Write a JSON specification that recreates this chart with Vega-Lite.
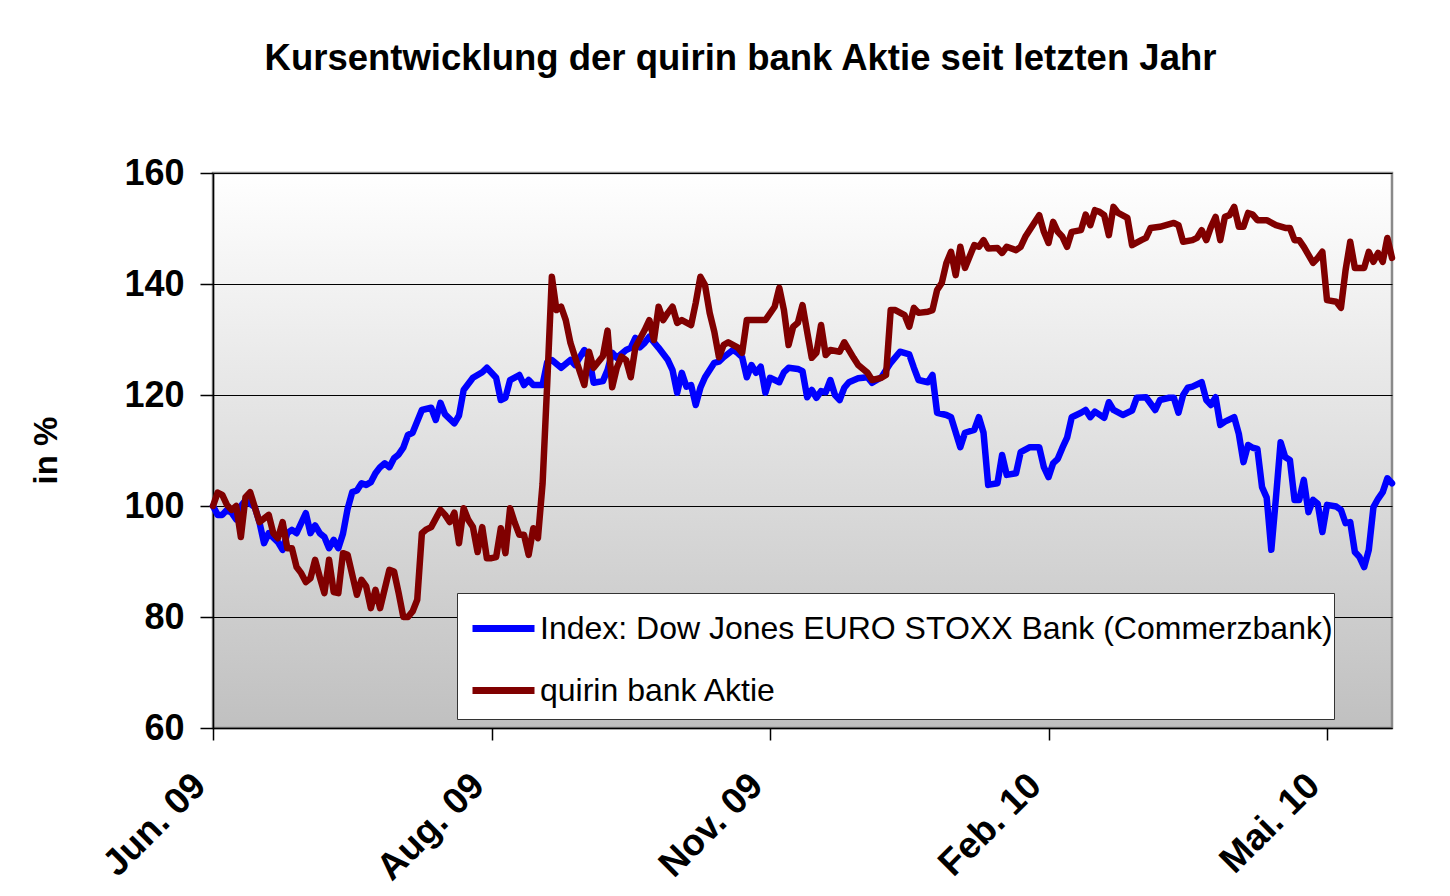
{
  "$schema": "https://vega.github.io/schema/vega-lite/v6.json",
  "width": 1179,
  "height": 555,
  "autosize": {"type": "none"},
  "padding": {"left": 213, "top": 173, "right": 58, "bottom": 168},
  "background": "#ffffff",
  "title": {
    "text": "Kursentwicklung der quirin bank Aktie seit letzten Jahr",
    "font": "Liberation Sans",
    "fontSize": 36.5,
    "fontWeight": "bold",
    "color": "#000000",
    "anchor": "middle",
    "dx": -62,
    "offset": 78
  },
  "config": {
    "view": {
      "stroke": "#8a8a8a",
      "strokeWidth": 2.5,
      "fill": {
        "gradient": "linear",
        "x1": 0, "y1": 0, "x2": 0, "y2": 1,
        "stops": [
          {"offset": 0, "color": "#ffffff"},
          {"offset": 1, "color": "#c0c0c0"}
        ]
      }
    },
    "axis": {
      "labelFont": "Liberation Sans",
      "titleFont": "Liberation Sans",
      "labelColor": "#000000",
      "titleColor": "#000000",
      "domainColor": "#000000",
      "tickColor": "#000000"
    }
  },
  "datasets": {
    "series": [
      {"t": 0, "v": 100.0, "s": "Index: Dow Jones EURO STOXX Bank (Commerzbank)"},
      {"t": 1, "v": 98.4, "s": "Index: Dow Jones EURO STOXX Bank (Commerzbank)"},
      {"t": 2, "v": 98.4, "s": "Index: Dow Jones EURO STOXX Bank (Commerzbank)"},
      {"t": 3, "v": 99.3, "s": "Index: Dow Jones EURO STOXX Bank (Commerzbank)"},
      {"t": 4, "v": 98.8, "s": "Index: Dow Jones EURO STOXX Bank (Commerzbank)"},
      {"t": 5, "v": 97.6, "s": "Index: Dow Jones EURO STOXX Bank (Commerzbank)"},
      {"t": 6, "v": 100.0, "s": "Index: Dow Jones EURO STOXX Bank (Commerzbank)"},
      {"t": 7, "v": 101.0, "s": "Index: Dow Jones EURO STOXX Bank (Commerzbank)"},
      {"t": 9, "v": 99.8, "s": "Index: Dow Jones EURO STOXX Bank (Commerzbank)"},
      {"t": 10, "v": 97.1, "s": "Index: Dow Jones EURO STOXX Bank (Commerzbank)"},
      {"t": 11, "v": 93.3, "s": "Index: Dow Jones EURO STOXX Bank (Commerzbank)"},
      {"t": 12, "v": 95.1, "s": "Index: Dow Jones EURO STOXX Bank (Commerzbank)"},
      {"t": 14, "v": 93.5, "s": "Index: Dow Jones EURO STOXX Bank (Commerzbank)"},
      {"t": 15, "v": 92.1, "s": "Index: Dow Jones EURO STOXX Bank (Commerzbank)"},
      {"t": 16, "v": 95.1, "s": "Index: Dow Jones EURO STOXX Bank (Commerzbank)"},
      {"t": 17, "v": 95.7, "s": "Index: Dow Jones EURO STOXX Bank (Commerzbank)"},
      {"t": 18, "v": 95.1, "s": "Index: Dow Jones EURO STOXX Bank (Commerzbank)"},
      {"t": 19, "v": 96.9, "s": "Index: Dow Jones EURO STOXX Bank (Commerzbank)"},
      {"t": 20, "v": 98.7, "s": "Index: Dow Jones EURO STOXX Bank (Commerzbank)"},
      {"t": 21, "v": 95.1, "s": "Index: Dow Jones EURO STOXX Bank (Commerzbank)"},
      {"t": 22, "v": 96.5, "s": "Index: Dow Jones EURO STOXX Bank (Commerzbank)"},
      {"t": 23, "v": 95.1, "s": "Index: Dow Jones EURO STOXX Bank (Commerzbank)"},
      {"t": 24, "v": 94.4, "s": "Index: Dow Jones EURO STOXX Bank (Commerzbank)"},
      {"t": 25, "v": 92.4, "s": "Index: Dow Jones EURO STOXX Bank (Commerzbank)"},
      {"t": 26, "v": 93.9, "s": "Index: Dow Jones EURO STOXX Bank (Commerzbank)"},
      {"t": 27, "v": 92.4, "s": "Index: Dow Jones EURO STOXX Bank (Commerzbank)"},
      {"t": 28, "v": 95.0, "s": "Index: Dow Jones EURO STOXX Bank (Commerzbank)"},
      {"t": 29, "v": 99.5, "s": "Index: Dow Jones EURO STOXX Bank (Commerzbank)"},
      {"t": 30, "v": 102.5, "s": "Index: Dow Jones EURO STOXX Bank (Commerzbank)"},
      {"t": 31, "v": 102.8, "s": "Index: Dow Jones EURO STOXX Bank (Commerzbank)"},
      {"t": 32, "v": 104.1, "s": "Index: Dow Jones EURO STOXX Bank (Commerzbank)"},
      {"t": 33, "v": 103.8, "s": "Index: Dow Jones EURO STOXX Bank (Commerzbank)"},
      {"t": 34, "v": 104.3, "s": "Index: Dow Jones EURO STOXX Bank (Commerzbank)"},
      {"t": 35, "v": 105.9, "s": "Index: Dow Jones EURO STOXX Bank (Commerzbank)"},
      {"t": 36, "v": 107.0, "s": "Index: Dow Jones EURO STOXX Bank (Commerzbank)"},
      {"t": 37, "v": 107.7, "s": "Index: Dow Jones EURO STOXX Bank (Commerzbank)"},
      {"t": 38, "v": 107.0, "s": "Index: Dow Jones EURO STOXX Bank (Commerzbank)"},
      {"t": 39, "v": 108.6, "s": "Index: Dow Jones EURO STOXX Bank (Commerzbank)"},
      {"t": 40, "v": 109.3, "s": "Index: Dow Jones EURO STOXX Bank (Commerzbank)"},
      {"t": 41, "v": 110.5, "s": "Index: Dow Jones EURO STOXX Bank (Commerzbank)"},
      {"t": 42, "v": 112.8, "s": "Index: Dow Jones EURO STOXX Bank (Commerzbank)"},
      {"t": 43, "v": 113.2, "s": "Index: Dow Jones EURO STOXX Bank (Commerzbank)"},
      {"t": 45, "v": 117.3, "s": "Index: Dow Jones EURO STOXX Bank (Commerzbank)"},
      {"t": 47, "v": 117.7, "s": "Index: Dow Jones EURO STOXX Bank (Commerzbank)"},
      {"t": 48, "v": 115.5, "s": "Index: Dow Jones EURO STOXX Bank (Commerzbank)"},
      {"t": 49, "v": 118.6, "s": "Index: Dow Jones EURO STOXX Bank (Commerzbank)"},
      {"t": 50, "v": 116.5, "s": "Index: Dow Jones EURO STOXX Bank (Commerzbank)"},
      {"t": 52, "v": 114.9, "s": "Index: Dow Jones EURO STOXX Bank (Commerzbank)"},
      {"t": 53, "v": 116.3, "s": "Index: Dow Jones EURO STOXX Bank (Commerzbank)"},
      {"t": 54, "v": 120.9, "s": "Index: Dow Jones EURO STOXX Bank (Commerzbank)"},
      {"t": 56, "v": 123.1, "s": "Index: Dow Jones EURO STOXX Bank (Commerzbank)"},
      {"t": 58, "v": 124.1, "s": "Index: Dow Jones EURO STOXX Bank (Commerzbank)"},
      {"t": 59, "v": 124.9, "s": "Index: Dow Jones EURO STOXX Bank (Commerzbank)"},
      {"t": 61, "v": 123.1, "s": "Index: Dow Jones EURO STOXX Bank (Commerzbank)"},
      {"t": 62, "v": 119.1, "s": "Index: Dow Jones EURO STOXX Bank (Commerzbank)"},
      {"t": 63, "v": 119.5, "s": "Index: Dow Jones EURO STOXX Bank (Commerzbank)"},
      {"t": 64, "v": 122.7, "s": "Index: Dow Jones EURO STOXX Bank (Commerzbank)"},
      {"t": 66, "v": 123.6, "s": "Index: Dow Jones EURO STOXX Bank (Commerzbank)"},
      {"t": 67, "v": 121.8, "s": "Index: Dow Jones EURO STOXX Bank (Commerzbank)"},
      {"t": 68, "v": 122.7, "s": "Index: Dow Jones EURO STOXX Bank (Commerzbank)"},
      {"t": 69, "v": 121.8, "s": "Index: Dow Jones EURO STOXX Bank (Commerzbank)"},
      {"t": 71, "v": 121.8, "s": "Index: Dow Jones EURO STOXX Bank (Commerzbank)"},
      {"t": 72, "v": 125.9, "s": "Index: Dow Jones EURO STOXX Bank (Commerzbank)"},
      {"t": 73, "v": 126.3, "s": "Index: Dow Jones EURO STOXX Bank (Commerzbank)"},
      {"t": 75, "v": 124.9, "s": "Index: Dow Jones EURO STOXX Bank (Commerzbank)"},
      {"t": 77, "v": 126.3, "s": "Index: Dow Jones EURO STOXX Bank (Commerzbank)"},
      {"t": 78, "v": 125.4, "s": "Index: Dow Jones EURO STOXX Bank (Commerzbank)"},
      {"t": 80, "v": 128.1, "s": "Index: Dow Jones EURO STOXX Bank (Commerzbank)"},
      {"t": 81, "v": 126.8, "s": "Index: Dow Jones EURO STOXX Bank (Commerzbank)"},
      {"t": 82, "v": 122.2, "s": "Index: Dow Jones EURO STOXX Bank (Commerzbank)"},
      {"t": 84, "v": 122.5, "s": "Index: Dow Jones EURO STOXX Bank (Commerzbank)"},
      {"t": 85, "v": 124.5, "s": "Index: Dow Jones EURO STOXX Bank (Commerzbank)"},
      {"t": 86, "v": 127.6, "s": "Index: Dow Jones EURO STOXX Bank (Commerzbank)"},
      {"t": 87, "v": 126.7, "s": "Index: Dow Jones EURO STOXX Bank (Commerzbank)"},
      {"t": 89, "v": 128.1, "s": "Index: Dow Jones EURO STOXX Bank (Commerzbank)"},
      {"t": 90, "v": 128.5, "s": "Index: Dow Jones EURO STOXX Bank (Commerzbank)"},
      {"t": 91, "v": 130.3, "s": "Index: Dow Jones EURO STOXX Bank (Commerzbank)"},
      {"t": 92, "v": 128.6, "s": "Index: Dow Jones EURO STOXX Bank (Commerzbank)"},
      {"t": 93, "v": 129.4, "s": "Index: Dow Jones EURO STOXX Bank (Commerzbank)"},
      {"t": 94, "v": 130.5, "s": "Index: Dow Jones EURO STOXX Bank (Commerzbank)"},
      {"t": 96, "v": 128.5, "s": "Index: Dow Jones EURO STOXX Bank (Commerzbank)"},
      {"t": 98, "v": 126.3, "s": "Index: Dow Jones EURO STOXX Bank (Commerzbank)"},
      {"t": 99, "v": 124.5, "s": "Index: Dow Jones EURO STOXX Bank (Commerzbank)"},
      {"t": 100, "v": 120.4, "s": "Index: Dow Jones EURO STOXX Bank (Commerzbank)"},
      {"t": 101, "v": 124.0, "s": "Index: Dow Jones EURO STOXX Bank (Commerzbank)"},
      {"t": 102, "v": 121.5, "s": "Index: Dow Jones EURO STOXX Bank (Commerzbank)"},
      {"t": 103, "v": 121.8, "s": "Index: Dow Jones EURO STOXX Bank (Commerzbank)"},
      {"t": 104, "v": 118.2, "s": "Index: Dow Jones EURO STOXX Bank (Commerzbank)"},
      {"t": 105, "v": 121.3, "s": "Index: Dow Jones EURO STOXX Bank (Commerzbank)"},
      {"t": 106, "v": 123.2, "s": "Index: Dow Jones EURO STOXX Bank (Commerzbank)"},
      {"t": 108, "v": 125.8, "s": "Index: Dow Jones EURO STOXX Bank (Commerzbank)"},
      {"t": 109, "v": 126.0, "s": "Index: Dow Jones EURO STOXX Bank (Commerzbank)"},
      {"t": 110, "v": 126.8, "s": "Index: Dow Jones EURO STOXX Bank (Commerzbank)"},
      {"t": 112, "v": 128.1, "s": "Index: Dow Jones EURO STOXX Bank (Commerzbank)"},
      {"t": 113, "v": 127.6, "s": "Index: Dow Jones EURO STOXX Bank (Commerzbank)"},
      {"t": 114, "v": 126.8, "s": "Index: Dow Jones EURO STOXX Bank (Commerzbank)"},
      {"t": 115, "v": 123.2, "s": "Index: Dow Jones EURO STOXX Bank (Commerzbank)"},
      {"t": 116, "v": 125.4, "s": "Index: Dow Jones EURO STOXX Bank (Commerzbank)"},
      {"t": 117, "v": 124.0, "s": "Index: Dow Jones EURO STOXX Bank (Commerzbank)"},
      {"t": 118, "v": 125.1, "s": "Index: Dow Jones EURO STOXX Bank (Commerzbank)"},
      {"t": 119, "v": 120.4, "s": "Index: Dow Jones EURO STOXX Bank (Commerzbank)"},
      {"t": 120, "v": 123.1, "s": "Index: Dow Jones EURO STOXX Bank (Commerzbank)"},
      {"t": 122, "v": 122.3, "s": "Index: Dow Jones EURO STOXX Bank (Commerzbank)"},
      {"t": 123, "v": 124.1, "s": "Index: Dow Jones EURO STOXX Bank (Commerzbank)"},
      {"t": 124, "v": 124.9, "s": "Index: Dow Jones EURO STOXX Bank (Commerzbank)"},
      {"t": 126, "v": 124.7, "s": "Index: Dow Jones EURO STOXX Bank (Commerzbank)"},
      {"t": 127, "v": 124.3, "s": "Index: Dow Jones EURO STOXX Bank (Commerzbank)"},
      {"t": 128, "v": 119.6, "s": "Index: Dow Jones EURO STOXX Bank (Commerzbank)"},
      {"t": 129, "v": 120.9, "s": "Index: Dow Jones EURO STOXX Bank (Commerzbank)"},
      {"t": 130, "v": 119.5, "s": "Index: Dow Jones EURO STOXX Bank (Commerzbank)"},
      {"t": 131, "v": 120.7, "s": "Index: Dow Jones EURO STOXX Bank (Commerzbank)"},
      {"t": 132, "v": 120.5, "s": "Index: Dow Jones EURO STOXX Bank (Commerzbank)"},
      {"t": 133, "v": 122.7, "s": "Index: Dow Jones EURO STOXX Bank (Commerzbank)"},
      {"t": 134, "v": 120.0, "s": "Index: Dow Jones EURO STOXX Bank (Commerzbank)"},
      {"t": 135, "v": 119.1, "s": "Index: Dow Jones EURO STOXX Bank (Commerzbank)"},
      {"t": 136, "v": 121.3, "s": "Index: Dow Jones EURO STOXX Bank (Commerzbank)"},
      {"t": 137, "v": 122.3, "s": "Index: Dow Jones EURO STOXX Bank (Commerzbank)"},
      {"t": 139, "v": 123.0, "s": "Index: Dow Jones EURO STOXX Bank (Commerzbank)"},
      {"t": 141, "v": 123.2, "s": "Index: Dow Jones EURO STOXX Bank (Commerzbank)"},
      {"t": 142, "v": 122.2, "s": "Index: Dow Jones EURO STOXX Bank (Commerzbank)"},
      {"t": 144, "v": 123.2, "s": "Index: Dow Jones EURO STOXX Bank (Commerzbank)"},
      {"t": 146, "v": 125.8, "s": "Index: Dow Jones EURO STOXX Bank (Commerzbank)"},
      {"t": 148, "v": 127.8, "s": "Index: Dow Jones EURO STOXX Bank (Commerzbank)"},
      {"t": 150, "v": 127.3, "s": "Index: Dow Jones EURO STOXX Bank (Commerzbank)"},
      {"t": 151, "v": 124.9, "s": "Index: Dow Jones EURO STOXX Bank (Commerzbank)"},
      {"t": 152, "v": 122.7, "s": "Index: Dow Jones EURO STOXX Bank (Commerzbank)"},
      {"t": 154, "v": 122.3, "s": "Index: Dow Jones EURO STOXX Bank (Commerzbank)"},
      {"t": 155, "v": 123.6, "s": "Index: Dow Jones EURO STOXX Bank (Commerzbank)"},
      {"t": 156, "v": 116.8, "s": "Index: Dow Jones EURO STOXX Bank (Commerzbank)"},
      {"t": 158, "v": 116.4, "s": "Index: Dow Jones EURO STOXX Bank (Commerzbank)"},
      {"t": 159, "v": 116.0, "s": "Index: Dow Jones EURO STOXX Bank (Commerzbank)"},
      {"t": 161, "v": 110.6, "s": "Index: Dow Jones EURO STOXX Bank (Commerzbank)"},
      {"t": 162, "v": 113.2, "s": "Index: Dow Jones EURO STOXX Bank (Commerzbank)"},
      {"t": 164, "v": 113.7, "s": "Index: Dow Jones EURO STOXX Bank (Commerzbank)"},
      {"t": 165, "v": 116.0, "s": "Index: Dow Jones EURO STOXX Bank (Commerzbank)"},
      {"t": 166, "v": 113.2, "s": "Index: Dow Jones EURO STOXX Bank (Commerzbank)"},
      {"t": 167, "v": 103.8, "s": "Index: Dow Jones EURO STOXX Bank (Commerzbank)"},
      {"t": 169, "v": 104.1, "s": "Index: Dow Jones EURO STOXX Bank (Commerzbank)"},
      {"t": 170, "v": 109.2, "s": "Index: Dow Jones EURO STOXX Bank (Commerzbank)"},
      {"t": 171, "v": 105.6, "s": "Index: Dow Jones EURO STOXX Bank (Commerzbank)"},
      {"t": 173, "v": 105.9, "s": "Index: Dow Jones EURO STOXX Bank (Commerzbank)"},
      {"t": 174, "v": 109.7, "s": "Index: Dow Jones EURO STOXX Bank (Commerzbank)"},
      {"t": 176, "v": 110.6, "s": "Index: Dow Jones EURO STOXX Bank (Commerzbank)"},
      {"t": 178, "v": 110.6, "s": "Index: Dow Jones EURO STOXX Bank (Commerzbank)"},
      {"t": 179, "v": 107.0, "s": "Index: Dow Jones EURO STOXX Bank (Commerzbank)"},
      {"t": 180, "v": 105.2, "s": "Index: Dow Jones EURO STOXX Bank (Commerzbank)"},
      {"t": 181, "v": 107.7, "s": "Index: Dow Jones EURO STOXX Bank (Commerzbank)"},
      {"t": 182, "v": 108.5, "s": "Index: Dow Jones EURO STOXX Bank (Commerzbank)"},
      {"t": 183, "v": 110.5, "s": "Index: Dow Jones EURO STOXX Bank (Commerzbank)"},
      {"t": 184, "v": 112.3, "s": "Index: Dow Jones EURO STOXX Bank (Commerzbank)"},
      {"t": 185, "v": 116.0, "s": "Index: Dow Jones EURO STOXX Bank (Commerzbank)"},
      {"t": 187, "v": 116.8, "s": "Index: Dow Jones EURO STOXX Bank (Commerzbank)"},
      {"t": 188, "v": 117.3, "s": "Index: Dow Jones EURO STOXX Bank (Commerzbank)"},
      {"t": 189, "v": 116.0, "s": "Index: Dow Jones EURO STOXX Bank (Commerzbank)"},
      {"t": 190, "v": 117.0, "s": "Index: Dow Jones EURO STOXX Bank (Commerzbank)"},
      {"t": 192, "v": 115.9, "s": "Index: Dow Jones EURO STOXX Bank (Commerzbank)"},
      {"t": 193, "v": 118.7, "s": "Index: Dow Jones EURO STOXX Bank (Commerzbank)"},
      {"t": 194, "v": 117.3, "s": "Index: Dow Jones EURO STOXX Bank (Commerzbank)"},
      {"t": 196, "v": 116.4, "s": "Index: Dow Jones EURO STOXX Bank (Commerzbank)"},
      {"t": 198, "v": 117.2, "s": "Index: Dow Jones EURO STOXX Bank (Commerzbank)"},
      {"t": 199, "v": 119.5, "s": "Index: Dow Jones EURO STOXX Bank (Commerzbank)"},
      {"t": 201, "v": 119.6, "s": "Index: Dow Jones EURO STOXX Bank (Commerzbank)"},
      {"t": 203, "v": 117.3, "s": "Index: Dow Jones EURO STOXX Bank (Commerzbank)"},
      {"t": 204, "v": 119.1, "s": "Index: Dow Jones EURO STOXX Bank (Commerzbank)"},
      {"t": 206, "v": 119.5, "s": "Index: Dow Jones EURO STOXX Bank (Commerzbank)"},
      {"t": 207, "v": 119.5, "s": "Index: Dow Jones EURO STOXX Bank (Commerzbank)"},
      {"t": 208, "v": 116.8, "s": "Index: Dow Jones EURO STOXX Bank (Commerzbank)"},
      {"t": 209, "v": 120.0, "s": "Index: Dow Jones EURO STOXX Bank (Commerzbank)"},
      {"t": 210, "v": 121.3, "s": "Index: Dow Jones EURO STOXX Bank (Commerzbank)"},
      {"t": 211, "v": 121.5, "s": "Index: Dow Jones EURO STOXX Bank (Commerzbank)"},
      {"t": 213, "v": 122.3, "s": "Index: Dow Jones EURO STOXX Bank (Commerzbank)"},
      {"t": 214, "v": 119.1, "s": "Index: Dow Jones EURO STOXX Bank (Commerzbank)"},
      {"t": 215, "v": 118.2, "s": "Index: Dow Jones EURO STOXX Bank (Commerzbank)"},
      {"t": 216, "v": 119.6, "s": "Index: Dow Jones EURO STOXX Bank (Commerzbank)"},
      {"t": 217, "v": 114.6, "s": "Index: Dow Jones EURO STOXX Bank (Commerzbank)"},
      {"t": 218, "v": 115.2, "s": "Index: Dow Jones EURO STOXX Bank (Commerzbank)"},
      {"t": 220, "v": 116.0, "s": "Index: Dow Jones EURO STOXX Bank (Commerzbank)"},
      {"t": 221, "v": 113.0, "s": "Index: Dow Jones EURO STOXX Bank (Commerzbank)"},
      {"t": 222, "v": 107.9, "s": "Index: Dow Jones EURO STOXX Bank (Commerzbank)"},
      {"t": 223, "v": 111.0, "s": "Index: Dow Jones EURO STOXX Bank (Commerzbank)"},
      {"t": 224, "v": 110.5, "s": "Index: Dow Jones EURO STOXX Bank (Commerzbank)"},
      {"t": 225, "v": 110.3, "s": "Index: Dow Jones EURO STOXX Bank (Commerzbank)"},
      {"t": 226, "v": 103.4, "s": "Index: Dow Jones EURO STOXX Bank (Commerzbank)"},
      {"t": 227, "v": 101.5, "s": "Index: Dow Jones EURO STOXX Bank (Commerzbank)"},
      {"t": 228, "v": 92.1, "s": "Index: Dow Jones EURO STOXX Bank (Commerzbank)"},
      {"t": 229, "v": 101.5, "s": "Index: Dow Jones EURO STOXX Bank (Commerzbank)"},
      {"t": 230, "v": 111.5, "s": "Index: Dow Jones EURO STOXX Bank (Commerzbank)"},
      {"t": 231, "v": 108.8, "s": "Index: Dow Jones EURO STOXX Bank (Commerzbank)"},
      {"t": 232, "v": 108.3, "s": "Index: Dow Jones EURO STOXX Bank (Commerzbank)"},
      {"t": 233, "v": 101.1, "s": "Index: Dow Jones EURO STOXX Bank (Commerzbank)"},
      {"t": 234, "v": 101.1, "s": "Index: Dow Jones EURO STOXX Bank (Commerzbank)"},
      {"t": 235, "v": 104.7, "s": "Index: Dow Jones EURO STOXX Bank (Commerzbank)"},
      {"t": 236, "v": 98.9, "s": "Index: Dow Jones EURO STOXX Bank (Commerzbank)"},
      {"t": 237, "v": 101.1, "s": "Index: Dow Jones EURO STOXX Bank (Commerzbank)"},
      {"t": 238, "v": 100.4, "s": "Index: Dow Jones EURO STOXX Bank (Commerzbank)"},
      {"t": 239, "v": 95.3, "s": "Index: Dow Jones EURO STOXX Bank (Commerzbank)"},
      {"t": 240, "v": 100.2, "s": "Index: Dow Jones EURO STOXX Bank (Commerzbank)"},
      {"t": 242, "v": 99.9, "s": "Index: Dow Jones EURO STOXX Bank (Commerzbank)"},
      {"t": 243, "v": 99.3, "s": "Index: Dow Jones EURO STOXX Bank (Commerzbank)"},
      {"t": 244, "v": 96.9, "s": "Index: Dow Jones EURO STOXX Bank (Commerzbank)"},
      {"t": 245, "v": 97.1, "s": "Index: Dow Jones EURO STOXX Bank (Commerzbank)"},
      {"t": 246, "v": 91.7, "s": "Index: Dow Jones EURO STOXX Bank (Commerzbank)"},
      {"t": 247, "v": 90.8, "s": "Index: Dow Jones EURO STOXX Bank (Commerzbank)"},
      {"t": 248, "v": 89.0, "s": "Index: Dow Jones EURO STOXX Bank (Commerzbank)"},
      {"t": 249, "v": 92.1, "s": "Index: Dow Jones EURO STOXX Bank (Commerzbank)"},
      {"t": 250, "v": 99.8, "s": "Index: Dow Jones EURO STOXX Bank (Commerzbank)"},
      {"t": 251, "v": 101.3, "s": "Index: Dow Jones EURO STOXX Bank (Commerzbank)"},
      {"t": 252, "v": 102.5, "s": "Index: Dow Jones EURO STOXX Bank (Commerzbank)"},
      {"t": 253, "v": 105.0, "s": "Index: Dow Jones EURO STOXX Bank (Commerzbank)"},
      {"t": 254, "v": 104.1, "s": "Index: Dow Jones EURO STOXX Bank (Commerzbank)"},
      {"t": 0, "v": 100.0, "s": "quirin bank Aktie"},
      {"t": 1, "v": 102.4, "s": "quirin bank Aktie"},
      {"t": 2, "v": 102.0, "s": "quirin bank Aktie"},
      {"t": 3, "v": 100.2, "s": "quirin bank Aktie"},
      {"t": 4, "v": 99.3, "s": "quirin bank Aktie"},
      {"t": 5, "v": 100.0, "s": "quirin bank Aktie"},
      {"t": 6, "v": 94.4, "s": "quirin bank Aktie"},
      {"t": 7, "v": 101.6, "s": "quirin bank Aktie"},
      {"t": 8, "v": 102.5, "s": "quirin bank Aktie"},
      {"t": 9, "v": 99.8, "s": "quirin bank Aktie"},
      {"t": 10, "v": 97.1, "s": "quirin bank Aktie"},
      {"t": 12, "v": 98.4, "s": "quirin bank Aktie"},
      {"t": 13, "v": 95.1, "s": "quirin bank Aktie"},
      {"t": 14, "v": 94.2, "s": "quirin bank Aktie"},
      {"t": 15, "v": 97.1, "s": "quirin bank Aktie"},
      {"t": 16, "v": 92.4, "s": "quirin bank Aktie"},
      {"t": 17, "v": 92.4, "s": "quirin bank Aktie"},
      {"t": 18, "v": 89.0, "s": "quirin bank Aktie"},
      {"t": 19, "v": 87.9, "s": "quirin bank Aktie"},
      {"t": 20, "v": 86.3, "s": "quirin bank Aktie"},
      {"t": 21, "v": 87.0, "s": "quirin bank Aktie"},
      {"t": 22, "v": 90.3, "s": "quirin bank Aktie"},
      {"t": 23, "v": 87.2, "s": "quirin bank Aktie"},
      {"t": 24, "v": 84.3, "s": "quirin bank Aktie"},
      {"t": 25, "v": 90.3, "s": "quirin bank Aktie"},
      {"t": 26, "v": 84.5, "s": "quirin bank Aktie"},
      {"t": 27, "v": 84.3, "s": "quirin bank Aktie"},
      {"t": 28, "v": 91.5, "s": "quirin bank Aktie"},
      {"t": 29, "v": 91.2, "s": "quirin bank Aktie"},
      {"t": 31, "v": 84.0, "s": "quirin bank Aktie"},
      {"t": 32, "v": 86.7, "s": "quirin bank Aktie"},
      {"t": 33, "v": 85.5, "s": "quirin bank Aktie"},
      {"t": 34, "v": 81.6, "s": "quirin bank Aktie"},
      {"t": 35, "v": 84.9, "s": "quirin bank Aktie"},
      {"t": 36, "v": 81.6, "s": "quirin bank Aktie"},
      {"t": 38, "v": 88.5, "s": "quirin bank Aktie"},
      {"t": 39, "v": 88.2, "s": "quirin bank Aktie"},
      {"t": 40, "v": 84.3, "s": "quirin bank Aktie"},
      {"t": 41, "v": 80.0, "s": "quirin bank Aktie"},
      {"t": 42, "v": 80.0, "s": "quirin bank Aktie"},
      {"t": 43, "v": 81.0, "s": "quirin bank Aktie"},
      {"t": 44, "v": 83.1, "s": "quirin bank Aktie"},
      {"t": 45, "v": 95.1, "s": "quirin bank Aktie"},
      {"t": 46, "v": 95.8, "s": "quirin bank Aktie"},
      {"t": 47, "v": 96.2, "s": "quirin bank Aktie"},
      {"t": 49, "v": 99.3, "s": "quirin bank Aktie"},
      {"t": 50, "v": 98.4, "s": "quirin bank Aktie"},
      {"t": 51, "v": 97.1, "s": "quirin bank Aktie"},
      {"t": 52, "v": 98.8, "s": "quirin bank Aktie"},
      {"t": 53, "v": 93.3, "s": "quirin bank Aktie"},
      {"t": 54, "v": 99.6, "s": "quirin bank Aktie"},
      {"t": 55, "v": 97.5, "s": "quirin bank Aktie"},
      {"t": 56, "v": 96.2, "s": "quirin bank Aktie"},
      {"t": 57, "v": 91.7, "s": "quirin bank Aktie"},
      {"t": 58, "v": 96.2, "s": "quirin bank Aktie"},
      {"t": 59, "v": 90.6, "s": "quirin bank Aktie"},
      {"t": 60, "v": 90.6, "s": "quirin bank Aktie"},
      {"t": 61, "v": 90.8, "s": "quirin bank Aktie"},
      {"t": 62, "v": 96.0, "s": "quirin bank Aktie"},
      {"t": 63, "v": 91.5, "s": "quirin bank Aktie"},
      {"t": 64, "v": 99.6, "s": "quirin bank Aktie"},
      {"t": 65, "v": 97.0, "s": "quirin bank Aktie"},
      {"t": 66, "v": 94.8, "s": "quirin bank Aktie"},
      {"t": 67, "v": 94.8, "s": "quirin bank Aktie"},
      {"t": 68, "v": 91.2, "s": "quirin bank Aktie"},
      {"t": 69, "v": 96.0, "s": "quirin bank Aktie"},
      {"t": 70, "v": 94.2, "s": "quirin bank Aktie"},
      {"t": 71, "v": 104.0, "s": "quirin bank Aktie"},
      {"t": 72, "v": 122.0, "s": "quirin bank Aktie"},
      {"t": 73, "v": 141.3, "s": "quirin bank Aktie"},
      {"t": 74, "v": 135.3, "s": "quirin bank Aktie"},
      {"t": 75, "v": 135.9, "s": "quirin bank Aktie"},
      {"t": 76, "v": 133.5, "s": "quirin bank Aktie"},
      {"t": 77, "v": 129.4, "s": "quirin bank Aktie"},
      {"t": 78, "v": 126.8, "s": "quirin bank Aktie"},
      {"t": 80, "v": 121.8, "s": "quirin bank Aktie"},
      {"t": 81, "v": 127.8, "s": "quirin bank Aktie"},
      {"t": 82, "v": 124.9, "s": "quirin bank Aktie"},
      {"t": 84, "v": 127.0, "s": "quirin bank Aktie"},
      {"t": 85, "v": 131.6, "s": "quirin bank Aktie"},
      {"t": 86, "v": 121.4, "s": "quirin bank Aktie"},
      {"t": 87, "v": 124.9, "s": "quirin bank Aktie"},
      {"t": 88, "v": 126.9, "s": "quirin bank Aktie"},
      {"t": 89, "v": 126.3, "s": "quirin bank Aktie"},
      {"t": 90, "v": 123.2, "s": "quirin bank Aktie"},
      {"t": 91, "v": 128.6, "s": "quirin bank Aktie"},
      {"t": 93, "v": 131.7, "s": "quirin bank Aktie"},
      {"t": 94, "v": 133.5, "s": "quirin bank Aktie"},
      {"t": 95, "v": 129.9, "s": "quirin bank Aktie"},
      {"t": 96, "v": 135.9, "s": "quirin bank Aktie"},
      {"t": 97, "v": 133.5, "s": "quirin bank Aktie"},
      {"t": 98, "v": 134.8, "s": "quirin bank Aktie"},
      {"t": 99, "v": 135.9, "s": "quirin bank Aktie"},
      {"t": 100, "v": 133.0, "s": "quirin bank Aktie"},
      {"t": 101, "v": 133.5, "s": "quirin bank Aktie"},
      {"t": 103, "v": 132.6, "s": "quirin bank Aktie"},
      {"t": 104, "v": 136.6, "s": "quirin bank Aktie"},
      {"t": 105, "v": 141.3, "s": "quirin bank Aktie"},
      {"t": 106, "v": 139.8, "s": "quirin bank Aktie"},
      {"t": 107, "v": 134.8, "s": "quirin bank Aktie"},
      {"t": 108, "v": 131.4, "s": "quirin bank Aktie"},
      {"t": 109, "v": 126.8, "s": "quirin bank Aktie"},
      {"t": 110, "v": 129.0, "s": "quirin bank Aktie"},
      {"t": 111, "v": 129.5, "s": "quirin bank Aktie"},
      {"t": 113, "v": 128.6, "s": "quirin bank Aktie"},
      {"t": 114, "v": 127.6, "s": "quirin bank Aktie"},
      {"t": 115, "v": 133.5, "s": "quirin bank Aktie"},
      {"t": 117, "v": 133.5, "s": "quirin bank Aktie"},
      {"t": 119, "v": 133.5, "s": "quirin bank Aktie"},
      {"t": 121, "v": 135.9, "s": "quirin bank Aktie"},
      {"t": 122, "v": 139.3, "s": "quirin bank Aktie"},
      {"t": 123, "v": 135.3, "s": "quirin bank Aktie"},
      {"t": 124, "v": 129.0, "s": "quirin bank Aktie"},
      {"t": 125, "v": 132.3, "s": "quirin bank Aktie"},
      {"t": 126, "v": 133.0, "s": "quirin bank Aktie"},
      {"t": 127, "v": 136.2, "s": "quirin bank Aktie"},
      {"t": 128, "v": 131.4, "s": "quirin bank Aktie"},
      {"t": 129, "v": 126.7, "s": "quirin bank Aktie"},
      {"t": 130, "v": 127.6, "s": "quirin bank Aktie"},
      {"t": 131, "v": 132.6, "s": "quirin bank Aktie"},
      {"t": 132, "v": 127.2, "s": "quirin bank Aktie"},
      {"t": 133, "v": 128.1, "s": "quirin bank Aktie"},
      {"t": 135, "v": 127.8, "s": "quirin bank Aktie"},
      {"t": 136, "v": 129.5, "s": "quirin bank Aktie"},
      {"t": 138, "v": 126.7, "s": "quirin bank Aktie"},
      {"t": 139, "v": 125.4, "s": "quirin bank Aktie"},
      {"t": 141, "v": 124.0, "s": "quirin bank Aktie"},
      {"t": 142, "v": 122.7, "s": "quirin bank Aktie"},
      {"t": 144, "v": 123.1, "s": "quirin bank Aktie"},
      {"t": 145, "v": 123.6, "s": "quirin bank Aktie"},
      {"t": 146, "v": 135.3, "s": "quirin bank Aktie"},
      {"t": 147, "v": 135.3, "s": "quirin bank Aktie"},
      {"t": 149, "v": 134.4, "s": "quirin bank Aktie"},
      {"t": 150, "v": 132.3, "s": "quirin bank Aktie"},
      {"t": 151, "v": 135.7, "s": "quirin bank Aktie"},
      {"t": 152, "v": 134.8, "s": "quirin bank Aktie"},
      {"t": 154, "v": 135.0, "s": "quirin bank Aktie"},
      {"t": 155, "v": 135.3, "s": "quirin bank Aktie"},
      {"t": 156, "v": 138.9, "s": "quirin bank Aktie"},
      {"t": 157, "v": 140.2, "s": "quirin bank Aktie"},
      {"t": 158, "v": 143.8, "s": "quirin bank Aktie"},
      {"t": 159, "v": 145.8, "s": "quirin bank Aktie"},
      {"t": 160, "v": 141.6, "s": "quirin bank Aktie"},
      {"t": 161, "v": 146.7, "s": "quirin bank Aktie"},
      {"t": 162, "v": 142.9, "s": "quirin bank Aktie"},
      {"t": 164, "v": 147.0, "s": "quirin bank Aktie"},
      {"t": 165, "v": 146.7, "s": "quirin bank Aktie"},
      {"t": 166, "v": 147.9, "s": "quirin bank Aktie"},
      {"t": 167, "v": 146.4, "s": "quirin bank Aktie"},
      {"t": 169, "v": 146.5, "s": "quirin bank Aktie"},
      {"t": 170, "v": 145.6, "s": "quirin bank Aktie"},
      {"t": 171, "v": 146.7, "s": "quirin bank Aktie"},
      {"t": 173, "v": 146.1, "s": "quirin bank Aktie"},
      {"t": 174, "v": 146.7, "s": "quirin bank Aktie"},
      {"t": 175, "v": 148.5, "s": "quirin bank Aktie"},
      {"t": 178, "v": 152.4, "s": "quirin bank Aktie"},
      {"t": 179, "v": 149.4, "s": "quirin bank Aktie"},
      {"t": 180, "v": 147.4, "s": "quirin bank Aktie"},
      {"t": 181, "v": 151.2, "s": "quirin bank Aktie"},
      {"t": 182, "v": 149.4, "s": "quirin bank Aktie"},
      {"t": 183, "v": 148.5, "s": "quirin bank Aktie"},
      {"t": 184, "v": 146.7, "s": "quirin bank Aktie"},
      {"t": 185, "v": 149.4, "s": "quirin bank Aktie"},
      {"t": 187, "v": 149.7, "s": "quirin bank Aktie"},
      {"t": 188, "v": 152.5, "s": "quirin bank Aktie"},
      {"t": 189, "v": 150.6, "s": "quirin bank Aktie"},
      {"t": 190, "v": 153.3, "s": "quirin bank Aktie"},
      {"t": 191, "v": 153.0, "s": "quirin bank Aktie"},
      {"t": 192, "v": 152.4, "s": "quirin bank Aktie"},
      {"t": 193, "v": 148.8, "s": "quirin bank Aktie"},
      {"t": 194, "v": 153.9, "s": "quirin bank Aktie"},
      {"t": 195, "v": 152.8, "s": "quirin bank Aktie"},
      {"t": 197, "v": 151.9, "s": "quirin bank Aktie"},
      {"t": 198, "v": 147.0, "s": "quirin bank Aktie"},
      {"t": 200, "v": 147.9, "s": "quirin bank Aktie"},
      {"t": 201, "v": 148.3, "s": "quirin bank Aktie"},
      {"t": 202, "v": 150.1, "s": "quirin bank Aktie"},
      {"t": 204, "v": 150.3, "s": "quirin bank Aktie"},
      {"t": 207, "v": 151.0, "s": "quirin bank Aktie"},
      {"t": 208, "v": 150.6, "s": "quirin bank Aktie"},
      {"t": 209, "v": 147.6, "s": "quirin bank Aktie"},
      {"t": 211, "v": 147.9, "s": "quirin bank Aktie"},
      {"t": 212, "v": 148.3, "s": "quirin bank Aktie"},
      {"t": 213, "v": 149.7, "s": "quirin bank Aktie"},
      {"t": 214, "v": 147.9, "s": "quirin bank Aktie"},
      {"t": 215, "v": 150.3, "s": "quirin bank Aktie"},
      {"t": 216, "v": 152.1, "s": "quirin bank Aktie"},
      {"t": 217, "v": 147.9, "s": "quirin bank Aktie"},
      {"t": 218, "v": 152.1, "s": "quirin bank Aktie"},
      {"t": 219, "v": 152.4, "s": "quirin bank Aktie"},
      {"t": 220, "v": 153.9, "s": "quirin bank Aktie"},
      {"t": 221, "v": 150.3, "s": "quirin bank Aktie"},
      {"t": 222, "v": 150.3, "s": "quirin bank Aktie"},
      {"t": 223, "v": 152.8, "s": "quirin bank Aktie"},
      {"t": 224, "v": 152.5, "s": "quirin bank Aktie"},
      {"t": 225, "v": 151.5, "s": "quirin bank Aktie"},
      {"t": 227, "v": 151.5, "s": "quirin bank Aktie"},
      {"t": 229, "v": 150.6, "s": "quirin bank Aktie"},
      {"t": 231, "v": 150.1, "s": "quirin bank Aktie"},
      {"t": 232, "v": 150.1, "s": "quirin bank Aktie"},
      {"t": 233, "v": 147.9, "s": "quirin bank Aktie"},
      {"t": 234, "v": 147.9, "s": "quirin bank Aktie"},
      {"t": 235, "v": 146.7, "s": "quirin bank Aktie"},
      {"t": 237, "v": 143.8, "s": "quirin bank Aktie"},
      {"t": 238, "v": 144.7, "s": "quirin bank Aktie"},
      {"t": 239, "v": 145.8, "s": "quirin bank Aktie"},
      {"t": 240, "v": 137.1, "s": "quirin bank Aktie"},
      {"t": 242, "v": 136.8, "s": "quirin bank Aktie"},
      {"t": 243, "v": 135.7, "s": "quirin bank Aktie"},
      {"t": 244, "v": 142.5, "s": "quirin bank Aktie"},
      {"t": 245, "v": 147.6, "s": "quirin bank Aktie"},
      {"t": 246, "v": 142.9, "s": "quirin bank Aktie"},
      {"t": 248, "v": 142.9, "s": "quirin bank Aktie"},
      {"t": 249, "v": 145.8, "s": "quirin bank Aktie"},
      {"t": 250, "v": 144.0, "s": "quirin bank Aktie"},
      {"t": 251, "v": 145.6, "s": "quirin bank Aktie"},
      {"t": 252, "v": 144.0, "s": "quirin bank Aktie"},
      {"t": 253, "v": 148.3, "s": "quirin bank Aktie"},
      {"t": 254, "v": 144.7, "s": "quirin bank Aktie"}
    ]
  },
  "data": {"name": "series"},
  "mark": {"type": "line", "strokeWidth": 6.5, "strokeJoin": "round", "strokeCap": "round"},
  "encoding": {
    "x": {
      "field": "t",
      "type": "quantitative",
      "scale": {"domain": [0, 254], "nice": false, "zero": false},
      "axis": {
        "title": null,
        "values": [0, 60, 120, 180, 240],
        "labelExpr": "datum.value == 0 ? 'Jun. 09' : datum.value == 60 ? 'Aug. 09' : datum.value == 120 ? 'Nov. 09' : datum.value == 180 ? 'Feb. 10' : 'Mai. 10'",
        "labelAngle": -45,
        "labelAlign": "right",
        "labelBaseline": "bottom",
        "labelFontSize": 37,
        "labelFontWeight": "bold",
        "labelPadding": 53,
        "labelOverlap": false,
        "labelFlush": false,
        "labelBound": false,
        "tickSize": 12,
        "tickWidth": 1.5,
        "domainWidth": 1.5,
        "grid": false
      }
    },
    "y": {
      "field": "v",
      "type": "quantitative",
      "scale": {"domain": [60, 160], "nice": false, "zero": false},
      "axis": {
        "title": "in %",
        "titleFontSize": 33,
        "titleFontWeight": "bold",
        "titleAngle": -90,
        "titleX": -167,
        "titleY": 277,
        "titleAlign": "center",
        "titleBaseline": "middle",
        "values": [60, 80, 100, 120, 140, 160],
        "labelFontSize": 36,
        "labelFontWeight": "bold",
        "labelPadding": 16,
        "tickSize": 13,
        "tickWidth": 1.5,
        "domainWidth": 1.5,
        "grid": true,
        "gridColor": "#000000",
        "gridWidth": 1,
        "gridOpacity": 1
      }
    },
    "color": {
      "field": "s",
      "type": "nominal",
      "scale": {
        "domain": ["Index: Dow Jones EURO STOXX Bank (Commerzbank)", "quirin bank Aktie"],
        "range": ["#0000ff", "#800000"]
      },
      "legend": {
        "title": " ",
        "titleOrient": "bottom",
        "titleFontSize": 12,
        "titlePadding": 0,
        "orient": "none",
        "legendX": 244,
        "legendY": 420,
        "fillColor": "#ffffff",
        "strokeColor": "#333333",
        "padding": 1,
        "symbolType": "stroke",
        "symbolSize": 3844,
        "symbolStrokeWidth": 7,
        "symbolOffset": 11,
        "labelFont": "Liberation Sans",
        "labelFontSize": 32,
        "labelColor": "#000000",
        "labelOffset": 2,
        "labelLimit": 1000,
        "rowPadding": 11
      }
    }
  }
}
